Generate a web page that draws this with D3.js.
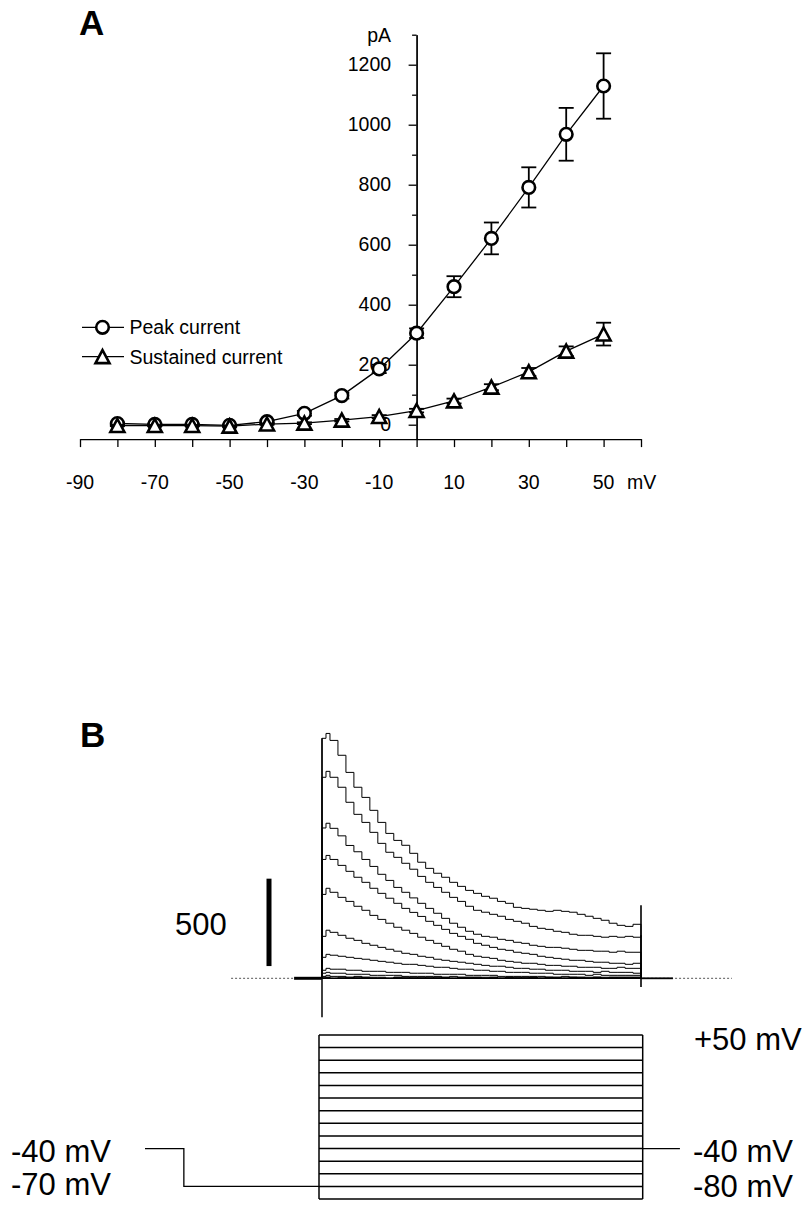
<!DOCTYPE html>
<html>
<head>
<meta charset="utf-8">
<script src="https://cdn.jsdelivr.net/npm/d3@7"></script>
<style>
  html, body { margin: 0; padding: 0; background: #fff; }
  svg { display: block; }
  text { font-family: "Liberation Sans", Arial, Helvetica, sans-serif; fill: #000; }
</style>
</head>
<body>
<svg id="fig" width="809" height="1215"></svg>
<script>
// ---------- Panel A: current-voltage relation ----------
const voltages   = [-80, -70, -60, -50, -40, -30, -20, -10, 0, 10, 20, 30, 40, 50];
const peakMean   = [4, 1, 1, -2, 10, 38, 97, 186, 305, 460, 621, 791, 968, 1129];
const peakSEM    = [3, 3, 3, 3, 4, 8, 10, 14, 16, 35, 53, 67, 88, 109];
const sustMean   = [-3, -3, -3, -5, 2, 5, 15, 27, 47, 79, 125, 176, 245, 302];
const sustSEM    = [2, 2, 2, 2, 2, 3, 4, 5, 6, 8, 10, 13, 16, 38];
const xTickVals  = [-90, -80, -70, -60, -50, -40, -30, -20, -10, 0, 10, 20, 30, 40, 50, 60];
const xTickLabels = [-90, -70, -50, -30, -10, 10, 30, 50];
const yMajorTicks = [0, 200, 400, 600, 800, 1000, 1200];
const yMinorTicks = [100, 300, 500, 700, 900, 1100, 1300];
const seriesNames = ["Peak current", "Sustained current"];

// ---------- Panel B: current traces and voltage protocol ----------
const traceTimes = [0, 5, 10, 20, 30, 40, 50, 60, 70, 80, 90, 100, 110, 120, 130, 140, 150, 160, 170, 180,
  190, 200, 210, 220, 230, 240, 250, 260, 270, 280, 290, 300, 310, 320, 330, 340, 350, 360, 370, 380, 390, 400];
const traceP50 = [1373, 1401, 1361, 1276, 1178, 1093, 1035, 961, 892, 829, 789, 761, 715, 664, 629, 601, 578, 549, 526, 503,
  486, 469, 458, 440, 429, 406, 400, 395, 389, 383, 389, 383, 378, 366, 355, 343, 332, 315, 303, 297, 309, 303];
const traceP40 = [1150, 1184, 1150, 1093, 1007, 938, 892, 835, 772, 721, 692, 658, 624, 583, 549, 520, 492, 463, 440, 412,
  389, 378, 366, 355, 337, 326, 315, 297, 286, 280, 269, 263, 252, 246, 246, 240, 235, 240, 235, 240, 235, 246];
const traceP30 = [860, 887, 858, 815, 760, 724, 680, 640, 595, 560, 520, 492, 460, 429, 400, 372, 343, 315, 292, 269,
  252, 240, 235, 223, 217, 206, 200, 189, 183, 177, 177, 172, 166, 160, 160, 155, 155, 149, 155, 149, 149, 149];
const traceP20 = [680, 703, 680, 646, 612, 578, 549, 515, 486, 458, 429, 400, 377, 354, 326, 303, 280, 257, 240, 223,
  200, 189, 177, 166, 160, 149, 143, 137, 126, 120, 114, 109, 103, 103, 97, 92, 92, 86, 86, 80, 86, 86];
const traceP10 = [480, 515, 492, 463, 440, 412, 389, 360, 337, 315, 292, 275, 257, 235, 217, 200, 183, 166, 155, 137,
  126, 120, 114, 103, 97, 92, 86, 86, 80, 74, 74, 69, 69, 63, 63, 63, 57, 57, 63, 57, 57, 57];
const traceZero = [240, 275, 263, 246, 229, 217, 200, 189, 177, 166, 155, 143, 137, 126, 120, 109, 103, 97, 92, 86,
  80, 74, 69, 69, 63, 57, 57, 52, 52, 46, 46, 46, 40, 40, 40, 34, 40, 34, 34, 34, 29, 34];
const traceM10 = [120, 137, 132, 126, 120, 114, 109, 103, 97, 92, 86, 80, 80, 74, 69, 63, 63, 57, 52, 52,
  46, 46, 40, 40, 34, 34, 34, 29, 29, 29, 23, 23, 23, 23, 17, 23, 17, 17, 17, 17, 17, 17];
const traceM20 = [46, 57, 52, 52, 46, 46, 40, 40, 40, 34, 34, 34, 29, 29, 29, 23, 23, 23, 23, 17,
  17, 17, 17, 11, 11, 11, 11, 11, 11, 6, 6, 11, 6, 6, 6, 6, 6, 6, 6, 6, 6, 6];
const traceM30 = [29, 34, 29, 29, 23, 23, 23, 17, 17, 17, 17, 11, 11, 11, 11, 11, 6, 11, 6, 6,
  6, 6, 6, 0, 6, 6, 0, 6, 0, 6, 0, 0, 6, 0, 0, 6, 0, 0, 0, 6, 0, 0];
const traceM40 = [11, 17, 11, 11, 6, 11, 6, 6, 6, 0, 6, 6, 0, 6, 0, 0, 6, 0, 0, 6,
  0, 0, 6, 0, 0, 0, 6, 0, 0, 0, 6, 0, 0, 0, 0, 6, 0, 0, 6, 0, 0, 0];
const traceM50 = [6, 6, 0, 6, 0, 0, 6, 0, 0, 0, 6, 0, 0, 0, 0, 6, 0, 0, 0, 0,
  6, 0, 0, 0, 0, 0, 0, 6, 0, 0, 0, 0, 0, 6, 0, 0, 0, 0, 0, 0, 6, 0];
const traceM60 = [0, 6, 0, 0, 0, 6, 0, 0, 0, 0, 0, 0, 6, 0, 0, 0, 0, 0, 6, 0,
  0, 0, 0, 0, 6, 0, 0, 0, 0, 0, 0, 0, 6, 0, 0, 0, 0, 0, 0, 0, 0, 0];
const traceM70 = [0, 0, 0, 0, 6, 0, 0, 0, 0, 0, 0, 0, 0, 0, 6, 0, 0, 0, 0, 0,
  0, 0, 0, 0, 0, 0, 0, 0, 0, 6, 0, 0, 0, 0, 0, 0, 0, 6, 0, 0, 0, 0];
const traceM80 = [0, 0, 0, 0, 0, 0, 0, 0, 0, 0, 0, 0, 0, 0, 0, 0, 0, 0, 0, 0,
  0, 0, 0, 0, 0, 0, 0, 0, 0, 0, 0, 0, 0, 0, 0, 0, 0, 0, 0, 0, 0, 0];
const traces = [traceP50, traceP40, traceP30, traceP20, traceP10, traceZero, traceM10,
  traceM20, traceM30, traceM40, traceM50, traceM60, traceM70, traceM80];

const stepLevels   = [50, 40, 30, 20, 10, 0, -10, -20, -30, -40, -50, -60, -70, -80]; // mV
const holdingLeft  = [[-215, -40], [-167, -40], [-167, -70], [0, -70]];  // [ms, mV]
const holdingRight = [[400, -40], [446, -40]];
const stepDuration = [0, 400]; // ms
const scaleBarPA   = [70, 570]; // 500 pA calibration

const svg = d3.select("#fig");

// ================= Panel A =================
const x = d3.scaleLinear().domain([-90, 60]).range([80, 641]);
const y = d3.scaleLinear().domain([-48, 1300]).range([439.1, 34.7]);
const A = svg.append("g");
const fontA = 19.5;

A.append("text").attr("x", 79).attr("y", 35).attr("font-size", 35).attr("font-weight", "bold").text("A");

// x axis
const xAxis = d3.axisBottom(x).tickValues(xTickVals).tickSize(8).tickSizeOuter(0).tickFormat("");
A.append("g").attr("transform", `translate(0,${y(-48)})`).call(xAxis)
  .call(g => g.selectAll("line,path").attr("stroke", "#000").attr("stroke-width", 1.3));
A.append("g").selectAll("text").data(xTickLabels).join("text")
  .attr("x", d => x(d)).attr("y", 489).attr("text-anchor", "middle").attr("font-size", fontA).text(d => d);
A.append("text").attr("x", 627).attr("y", 489).attr("font-size", fontA).text("mV");

// y axis (crossing at 0 mV)
const yAxisMajor = d3.axisLeft(y).tickValues(yMajorTicks).tickSize(8).tickSizeOuter(0)
  .tickPadding(17.5).tickFormat(d3.format("d"));
const yAxisMinor = d3.axisLeft(y).tickValues(yMinorTicks).tickSize(4.5).tickSizeOuter(0).tickFormat("");
A.append("g").attr("transform", `translate(${x(0)},0)`).call(yAxisMinor)
  .call(g => g.selectAll("line,path").attr("stroke", "#000").attr("stroke-width", 1.3));
A.append("g").attr("transform", `translate(${x(0)},0)`).call(yAxisMajor)
  .call(g => g.selectAll("line,path").attr("stroke", "#000").attr("stroke-width", 1.3))
  .call(g => g.selectAll("text").attr("font-size", fontA).attr("font-family", null).attr("fill", "#000"));
A.append("text").attr("x", x(0) - 25.5).attr("y", 42).attr("text-anchor", "end").attr("font-size", fontA).text("pA");

const triPath = "M0,-6.6L7,6.4L-7,6.4Z";
const line = d3.line().x(d => x(d[0])).y(d => y(d[1]));
const series = [
  { mean: peakMean, sem: peakSEM, shape: "circle" },
  { mean: sustMean, sem: sustSEM, shape: "triangle" }
];

series.forEach(s => {
  const pts = voltages.map((v, i) => [v, s.mean[i], s.sem[i]]);
  A.append("path").datum(pts).attr("d", line).attr("fill", "none").attr("stroke", "#000").attr("stroke-width", 1.3);
  const eb = A.append("g").attr("stroke", "#000").attr("stroke-width", 1.8);
  pts.forEach(p => {
    const cx = x(p[0]), y1 = y(p[1] + p[2]), y2 = y(p[1] - p[2]);
    eb.append("line").attr("x1", cx).attr("x2", cx).attr("y1", y1).attr("y2", y2);
    eb.append("line").attr("x1", cx - 7.5).attr("x2", cx + 7.5).attr("y1", y1).attr("y2", y1);
    eb.append("line").attr("x1", cx - 7.5).attr("x2", cx + 7.5).attr("y1", y2).attr("y2", y2);
  });
  const mk = A.append("g");
  if (s.shape === "circle") {
    mk.selectAll("circle").data(pts).join("circle")
      .attr("cx", d => x(d[0])).attr("cy", d => y(d[1])).attr("r", 6.3)
      .attr("fill", "#fff").attr("stroke", "#000").attr("stroke-width", 2.6);
  } else {
    mk.selectAll("path").data(pts).join("path")
      .attr("transform", d => `translate(${x(d[0])},${y(d[1])})`).attr("d", triPath)
      .attr("fill", "#fff").attr("stroke", "#000").attr("stroke-width", 2.6).attr("stroke-linejoin", "miter");
  }
});

// legend
const legend = A.append("g");
[327.3, 356.7].forEach((ly, i) => {
  legend.append("line").attr("x1", 82).attr("x2", 124).attr("y1", ly).attr("y2", ly)
    .attr("stroke", "#000").attr("stroke-width", 1.3);
  if (i === 0) {
    legend.append("circle").attr("cx", 102.5).attr("cy", ly).attr("r", 6.3)
      .attr("fill", "#fff").attr("stroke", "#000").attr("stroke-width", 2.6);
  } else {
    legend.append("path").attr("transform", `translate(102.5,${ly})`).attr("d", triPath)
      .attr("fill", "#fff").attr("stroke", "#000").attr("stroke-width", 2.6);
  }
  legend.append("text").attr("x", 129.5).attr("y", ly + 6.8).attr("font-size", fontA).text(seriesNames[i]);
});

// ================= Panel B =================
const B = svg.append("g");
B.append("text").attr("x", 80).attr("y", 746.7).attr("font-size", 35).attr("font-weight", "bold").text("B");

const t = d3.scaleLinear().domain([0, 400]).range([322, 641]);
const iy = d3.scaleLinear().domain([0, 1400]).range([978.3, 733.6]);

// zero-current reference (dotted)
B.append("line").attr("x1", t(-114)).attr("x2", t(514)).attr("y1", iy(0)).attr("y2", iy(0))
  .attr("stroke", "#555").attr("stroke-width", 1).attr("stroke-dasharray", "2,2");
// holding-current segments before and after the step
B.append("line").attr("x1", t(-35)).attr("x2", t(0)).attr("y1", iy(0)).attr("y2", iy(0))
  .attr("stroke", "#000").attr("stroke-width", 3);
B.append("line").attr("x1", t(400)).attr("x2", t(440)).attr("y1", iy(0)).attr("y2", iy(0))
  .attr("stroke", "#000").attr("stroke-width", 1.8);

// capacitive transients at step onset and offset
B.append("line").attr("x1", t(0)).attr("x2", t(0)).attr("y1", iy(-223)).attr("y2", iy(traceP50[0]))
  .attr("stroke", "#111").attr("stroke-width", 1.6);
B.append("line").attr("x1", t(400)).attr("x2", t(400)).attr("y1", iy(-50)).attr("y2", iy(418))
  .attr("stroke", "#000").attr("stroke-width", 1.6);

const traceLine = d3.line().x(d => t(d[0])).y(d => iy(d[1])).curve(d3.curveStepAfter);
traces.slice().reverse().forEach(tr => {
  const pts = [[0, 0]].concat(traceTimes.map((tm, i) => [tm, tr[i]])).concat([[400, 0]]);
  B.append("path").datum(pts).attr("d", traceLine).attr("fill", "none")
    .attr("stroke", "#000").attr("stroke-width", 1);
});

// calibration bar
B.append("line").attr("x1", 269).attr("x2", 269).attr("y1", iy(scaleBarPA[0])).attr("y2", iy(scaleBarPA[1]))
  .attr("stroke", "#000").attr("stroke-width", 5);
B.append("text").attr("x", 175).attr("y", 935).attr("font-size", 31).text("500");

// voltage protocol
const pt = d3.scaleLinear().domain([0, 400]).range([319, 642.7]);
const pv = d3.scaleLinear().domain([-80, 50]).range([1199, 1035]);
const P = B.append("g").attr("stroke", "#000").attr("fill", "none");
P.selectAll("line.step").data(stepLevels).join("line").attr("class", "step")
  .attr("x1", pt(stepDuration[0])).attr("x2", pt(stepDuration[1]))
  .attr("y1", d => pv(d)).attr("y2", d => pv(d)).attr("stroke-width", 1.5);
[stepDuration[0], stepDuration[1]].forEach(tm => {
  P.append("line").attr("x1", pt(tm)).attr("x2", pt(tm)).attr("y1", pv(50)).attr("y2", pv(-80)).attr("stroke-width", 1.5);
});
const protoLine = d3.line().x(d => pt(d[0])).y(d => pv(d[1]));
P.append("path").datum(holdingLeft).attr("d", protoLine).attr("stroke-width", 1.3);
P.append("path").datum(holdingRight).attr("d", protoLine).attr("stroke-width", 1.3);

const fontB = 31;
B.append("text").attr("x", 11).attr("y", 1161.7).attr("font-size", fontB).text("-40 mV");
B.append("text").attr("x", 11).attr("y", 1195).attr("font-size", fontB).text("-70 mV");
B.append("text").attr("x", 694).attr("y", 1050).attr("font-size", fontB).text("+50 mV");
B.append("text").attr("x", 693).attr("y", 1161.7).attr("font-size", fontB).text("-40 mV");
B.append("text").attr("x", 693).attr("y", 1197).attr("font-size", fontB).text("-80 mV");
</script>
</body>
</html>
